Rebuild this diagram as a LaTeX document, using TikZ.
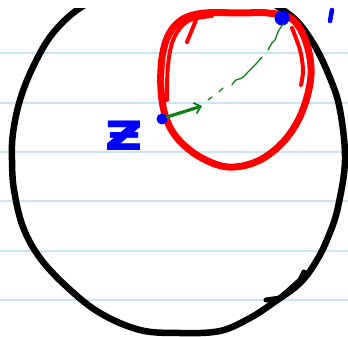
\documentclass[tikz,border=0pt]{standalone}
\usepackage{fontspec}
\newfontfamily\dejavu{DejaVu Sans}
\usetikzlibrary{arrows.meta}
\definecolor{ruleblue}{RGB}{200,228,245}
\definecolor{penred}{RGB}{255,0,0}
\definecolor{penblue}{RGB}{0,0,255}
\definecolor{pengreen}{RGB}{10,130,20}
\tikzset{
  ruling/.style={ruleblue, line width=1.6pt},
  blackpen/.style={black, line width=6.5pt, line cap=round, line join=round},
  redpen/.style={penred, line width=7pt, line cap=round, line join=round},
  redthin/.style={penred, line width=4pt, line cap=round},
  bluedot/.style={fill=penblue},
  greenarrow/.style={pengreen, line width=3.2pt, line cap=round, -{Straight Barb[length=6pt,width=11pt,line width=1.8pt]}},
  greendash/.style={pengreen, line width=1.3pt, line cap=round},
  label/.style={penblue, font=\dejavu\bfseries\fontsize{54}{54}\selectfont, xscale=1.25, inner sep=0pt}
}
\begin{document}
\begin{tikzpicture}[x=1pt,y=-1pt]
\useasboundingbox (0,0) rectangle (348,337);
\fill[white] (0,0) rectangle (348,337);
% ruled lines
\foreach \yy in {53,103,152,201,251,300}
  \draw[ruling] (0,\yy) -- (348,\yy);
\begin{scope}
\clip (0,9) rectangle (348,337);
% black circle
\draw[blackpen] plot[smooth cycle, tension=0.6] coordinates {(83,6) (53,33) (33,67) (20,100) (13,133) (12,160) (14,190) (23,227) (40,258) (67,287) (100,313) (140,330) (180,333) (220,331) (250,318) (273,303) (300,283) (317,260) (329,235) (338,207) (345,160) (340,110) (330,78) (313,43) (290,15) (250,-5) (180,-12) (120,-8)};
\draw[blackpen, line width=5pt] (266,300) -- (280,298);
\draw[blackpen, line width=5pt] (282,296) -- (300,280) -- (304,272);
% red circle
\draw[redpen] plot[smooth cycle, tension=0.6] coordinates {(240,13) (205,13) (183,19) (169,34) (162,58) (161,90) (166,118) (178,139) (200,157) (228,167) (258,161) (284,141) (302,112) (311,75) (306,42) (292,19) (268,13)};
\draw[redthin] plot[smooth, tension=0.6] coordinates {(212,16) (188,21) (174,38) (168,65) (167,100)};
\draw[redthin] (196,20) -- (187,42);
\draw[redthin] plot[smooth, tension=0.6] coordinates {(292,28) (300,50) (303,70) (301,85)};
\end{scope}
% points
\coordinate (z) at (162,119);
\coordinate (w) at (282,18);
\fill[bluedot] (z) circle (5.5pt);
\fill[bluedot] (w) circle (7.5pt);
\draw[penblue, line width=4.5pt, line cap=round] (332,10) -- (330,21);
% green arrow and dashed segment
\coordinate (tip) at (202,106);
\draw[greenarrow] (167,117) -- (tip);
\draw[greendash] (208,100) -- (212,97);
\draw[greendash] (219,92) -- (223,88);
\draw[greendash] plot[smooth, tension=0.8] coordinates {(232,85) (236,80) (242,78) (248,72) (255,65) (262,57)};
\draw[greendash] plot[smooth, tension=0.8] coordinates {(268,50) (272,43) (275,40) (278,32) (283,24)};
% label
\node[label] (zlabel) at (124,136) {ƶ};
\end{tikzpicture}
\end{document}
